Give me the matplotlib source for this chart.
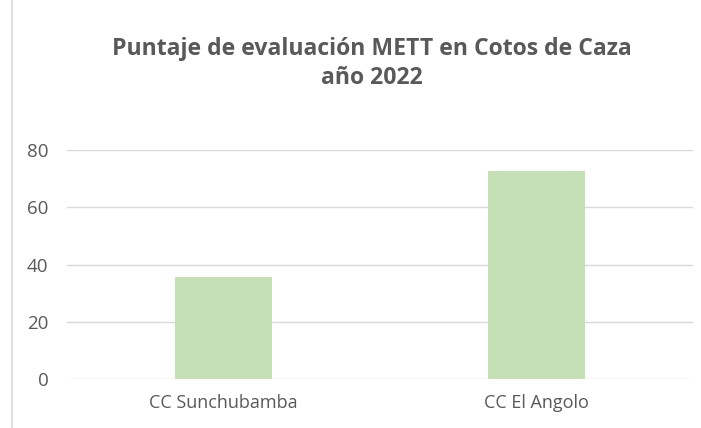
import matplotlib.pyplot as plt
from matplotlib.lines import Line2D

# data
categories = ["CC Sunchubamba", "CC El Angolo"]
scores = [35.5, 72.7]
y_ticks = [0, 20, 40, 60, 80]

plt.rcParams['font.family'] = ['Open Sans', 'DejaVu Sans']
text_color = '#595959'

fig = plt.figure(figsize=(7.01, 4.28), dpi=100)
ax = fig.add_axes([0.0949, 0.1145, 0.894, 0.535])

x = range(len(categories))
ax.bar(x, scores, width=0.31, color='#C5E0B4', zorder=3)

ax.set_xlim(-0.5, len(categories) - 0.5)
ax.set_ylim(0, 80)
ax.set_yticks(y_ticks)
ax.set_xticks(list(x))
ax.set_xticklabels(categories)
ax.grid(axis='y', color='#D9D9D9', linewidth=1, zorder=0)
for s in ax.spines.values():
    s.set_visible(False)
ax.tick_params(axis='both', length=0, colors=text_color)
ax.tick_params(axis='y', pad=13, labelsize=13.5)
ax.tick_params(axis='x', pad=11, labelsize=13)

fig.text(0.531, 0.852, "Puntaje de evaluación METT en Cotos de Caza\naño 2022",
         ha='center', va='center', fontsize=16.6, fontweight='bold',
         color=text_color, linespacing=1.3)

# chart frame edge on the left
fig.add_artist(Line2D([12 / 701, 12 / 701], [0, 1], color='#D9D9D9', linewidth=1.2))

fig.savefig("out.png", dpi=100)
